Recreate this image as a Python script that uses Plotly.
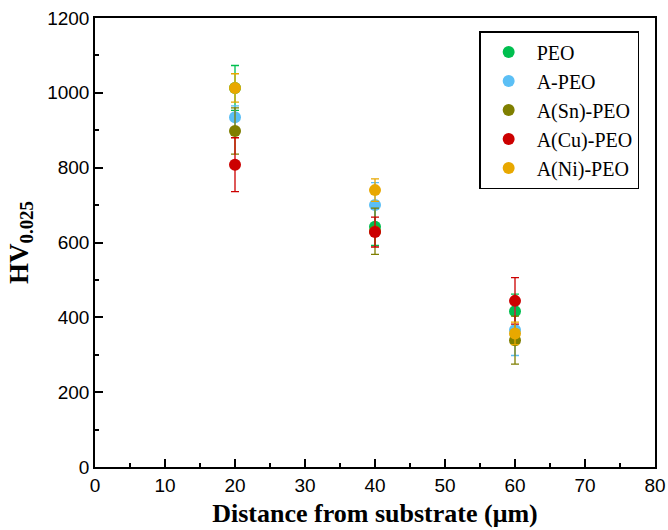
import plotly.graph_objects as go

x_vals = [20, 40, 60]
series_names = ["PEO", "A-PEO", "A(Sn)-PEO", "A(Cu)-PEO", "A(Ni)-PEO"]
colors = ["#00bf4f", "#5bbff5", "#7f7f00", "#cc0000", "#e8a800"]
hv_peo = [1013, 642, 416]
hv_a = [935, 700, 366]
hv_sn = [898, 630, 339]
hv_cu = [808, 628, 444]
hv_ni = [1013, 740, 357]
err_peo = [60, 50, 46]
err_a = [30, 60, 68]
err_sn = [62, 62, 64]
err_cu = [72, 40, 62]
err_ni = [38, 30, 30]

values = [hv_peo, hv_a, hv_sn, hv_cu, hv_ni]
errors = [err_peo, err_a, err_sn, err_cu, err_ni]

fig = go.Figure()
for name, col, v, e in zip(series_names, colors, values, errors):
    fig.add_trace(go.Scatter(
        x=x_vals, y=v, mode="markers", name=name,
        marker=dict(color=col, size=12),
        error_y=dict(type="data", array=e, visible=True, color=col, thickness=1.3, width=4),
    ))

axis_common = dict(
    showline=True, linecolor="black", linewidth=1.5, mirror=True,
    ticks="inside", ticklen=8, tickwidth=1.5, tickcolor="black",
    showgrid=False, zeroline=False, automargin=False,
    tickfont=dict(family="Liberation Sans, Arial", size=19, color="black"),
    minor=dict(ticks="inside", ticklen=4, tickwidth=1.5, tickcolor="black", showgrid=False),
)

fig.update_xaxes(range=[0, 80], dtick=10, minor_dtick=5,
                 title=dict(text="<b>Distance from substrate (μm)</b>",
                            font=dict(family="Liberation Serif, Times New Roman", size=26, color="black"),
                            standoff=9),
                 **axis_common)
fig.update_yaxes(range=[0, 1200], dtick=200, minor_dtick=100,
                 title=dict(text="<b>HV<sub>0.025</sub></b>",
                            font=dict(family="Liberation Serif, Times New Roman", size=27, color="black"),
                            standoff=11),
                 **axis_common)

fig.update_layout(
    width=668, height=530,
    margin=dict(l=95, r=13, t=18, b=63),
    plot_bgcolor="white", paper_bgcolor="white",
    showlegend=True,
    legend=dict(x=0.686, y=0.971, xanchor="left", yanchor="top",
                bordercolor="black", borderwidth=1.5, bgcolor="white",
                font=dict(family="Liberation Serif, Times New Roman", size=20, color="black"),
                itemsizing="constant", itemwidth=46, tracegroupgap=0),
)

fig.write_html("out.html")
